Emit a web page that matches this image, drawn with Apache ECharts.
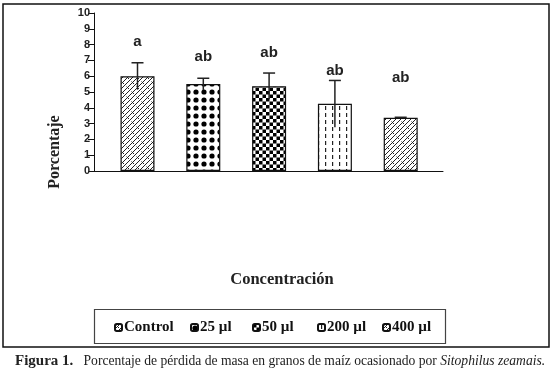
<!DOCTYPE html>
<html>
<head>
<meta charset="utf-8">
<script src="https://cdn.jsdelivr.net/npm/echarts@6/dist/echarts.min.js"></script>
<style>
  html, body { margin: 0; padding: 0; background: #fff; }
  #chart { width: 554px; height: 374px; }
</style>
</head>
<body>
<div id="chart"></div>
<script>
// datos
const categories = ['Control', '25 µl', '50 µl', '200 µl', '400 µl']
const meanValues = [6.0, 5.5, 5.37, 4.25, 3.37]
const errValues = [0.85, 0.37, 0.83, 1.48, 0.03]
const letters = ['a', 'ab', 'ab', 'ab', 'ab']
const letterLevels = [8.2, 7.23, 7.47, 6.33, 5.89]
const yTicks = [0, 1, 2, 3, 4, 5, 6, 7, 8, 9, 10]

// posicion horizontal de cada entrada de la leyenda (px)
const legendLefts = [114, 190, 252, 317, 382]

// patrones de relleno
function makeTile(w, h, draw) {
  const c = document.createElement('canvas')
  c.width = w
  c.height = h
  const ctx = c.getContext('2d')
  ctx.fillStyle = '#fff'
  ctx.fillRect(0, 0, w, h)
  draw(ctx)
  return { image: c, repeat: 'repeat' }
}

function brick() {
  return makeTile(10, 10, ctx => {
    ctx.strokeStyle = '#222'
    ctx.lineWidth = 1
    ctx.beginPath()
    // diagonales "/"
    ctx.moveTo(-1, 11); ctx.lineTo(11, -1)
    ctx.moveTo(-6, 11); ctx.lineTo(6, -1)
    ctx.moveTo(4, 11); ctx.lineTo(16, -1)
    // uniones cortas "\"
    ctx.moveTo(1.5, 1.5); ctx.lineTo(4, 4)
    ctx.moveTo(6.5, 6.5); ctx.lineTo(9, 9)
    ctx.stroke()
  })
}

const patterns = [
  brick(),
  makeTile(8, 8, ctx => {
    ctx.fillStyle = '#000'
    ctx.beginPath()
    ctx.arc(4, 4, 2.6, 0, Math.PI * 2)
    ctx.fill()
  }),
  makeTile(7, 7, ctx => {
    ctx.fillStyle = '#000'
    ctx.fillRect(0, 0, 3.5, 3.5)
    ctx.fillRect(3.5, 3.5, 3.5, 3.5)
  }),
  makeTile(7, 7, ctx => {
    ctx.fillStyle = '#222'
    ctx.fillRect(3, 1, 1.2, 4)
  }),
  brick()
]

const chart = echarts.init(document.getElementById('chart'))

const barSeries = categories.map((name, i) => ({
  name: name,
  type: 'bar',
  stack: 'all',
  xAxisIndex: 1,
  yAxisIndex: 1,
  barWidth: 34,
  itemStyle: {
    color: patterns[i],
    borderColor: '#111',
    borderWidth: 1.2
  },
  data: meanValues.map((v, j) => (j === i ? v : '-')),
  z: 2
}))

// una leyenda por entrada para respetar el espaciado del original
const legends = categories.map((name, i) => ({
  data: [name],
  left: legendLefts[i],
  top: 320,
  padding: 0,
  itemWidth: 7,
  itemHeight: 7,
  selectedMode: false,
  textStyle: {
    fontFamily: 'Liberation Serif, Times New Roman, serif',
    fontWeight: 'bold',
    fontSize: 15,
    color: '#111',
    padding: [0, 0, 0, -3]
  }
}))

chart.setOption({
  animation: false,
  backgroundColor: '#fff',
  grid: [
    { left: 94, right: 111, top: 13, bottom: 203 },
    { left: 104.6, right: 120.4, top: 13, bottom: 203 }
  ],
  xAxis: [
    {
      type: 'category',
      gridIndex: 0,
      data: [''],
      axisLine: { lineStyle: { color: '#111', width: 1 } },
      axisTick: { show: false },
      axisLabel: { show: false }
    },
    {
      type: 'category',
      gridIndex: 1,
      data: categories,
      axisLine: { show: false },
      axisTick: { show: false },
      axisLabel: { show: false }
    }
  ],
  yAxis: [
    {
      type: 'value',
      gridIndex: 0,
      min: yTicks[0],
      max: yTicks[yTicks.length - 1],
      interval: 1,
      splitLine: { show: false },
      axisLine: { show: true, lineStyle: { color: '#111', width: 1 } },
      axisTick: { show: true, length: 6, lineStyle: { color: '#111' } },
      axisLabel: {
        margin: 4,
        color: '#222',
        fontFamily: 'Liberation Sans, Arial, sans-serif',
        fontWeight: 'bold',
        fontSize: 11
      }
    },
    {
      type: 'value',
      gridIndex: 1,
      min: yTicks[0],
      max: yTicks[yTicks.length - 1],
      show: false
    }
  ],
  legend: legends,
  graphic: [
    {
      type: 'rect',
      shape: { x: 3, y: 4, width: 546, height: 343 },
      style: { fill: 'none', stroke: '#111', lineWidth: 1.5 },
      silent: true
    },
    {
      type: 'rect',
      shape: { x: 94.5, y: 309.5, width: 351, height: 34 },
      style: { fill: 'none', stroke: '#444', lineWidth: 1.2 },
      silent: true
    },
    {
      type: 'text',
      x: 55,
      y: 152,
      rotation: Math.PI / 2,
      style: {
        text: 'Porcentaje',
        fill: '#222',
        font: 'bold 16px "Liberation Serif", serif',
        align: 'center',
        verticalAlign: 'middle'
      }
    },
    {
      type: 'text',
      x: 282,
      y: 280,
      style: {
        text: 'Concentración',
        fill: '#222',
        font: 'bold 16.5px "Liberation Serif", serif',
        align: 'center',
        verticalAlign: 'middle'
      }
    },
    {
      type: 'text',
      x: 15,
      y: 361,
      style: {
        text: '{b|Figura 1.}   Porcentaje de pérdida de masa en granos de maíz ocasionado por {i|Sitophilus zeamais.}',
        fill: '#222',
        font: '13.6px "Liberation Serif", serif',
        verticalAlign: 'middle',
        rich: {
          b: { fontWeight: 'bold', fontSize: 15, fontFamily: 'Liberation Serif', fill: '#222' },
          i: { fontStyle: 'italic', fontSize: 13.6, fontFamily: 'Liberation Serif', fill: '#222' }
        }
      }
    }
  ],
  series: barSeries.concat([
    {
      type: 'custom',
      name: 'error',
      xAxisIndex: 1,
      yAxisIndex: 1,
      z: 5,
      data: meanValues.map((v, i) => [i, v - errValues[i], v + errValues[i]]),
      renderItem(params, api) {
        const x = api.coord([api.value(0), 0])[0]
        const lo = api.coord([api.value(0), api.value(1)])[1]
        const hi = api.coord([api.value(0), api.value(2)])[1]
        const cap = 6
        return {
          type: 'group',
          children: [
            { type: 'line', shape: { x1: x, y1: lo, x2: x, y2: hi }, style: { stroke: '#222', lineWidth: 1.5 } },
            { type: 'line', shape: { x1: x - cap, y1: hi, x2: x + cap, y2: hi }, style: { stroke: '#222', lineWidth: 1.5 } }
          ]
        }
      }
    },
    {
      type: 'custom',
      name: 'letras',
      xAxisIndex: 1,
      yAxisIndex: 1,
      z: 6,
      data: letterLevels.map((v, i) => [i, v]),
      renderItem(params, api) {
        const p = api.coord([api.value(0), api.value(1)])
        return {
          type: 'text',
          x: p[0],
          y: p[1],
          style: {
            text: letters[params.dataIndex],
            fill: '#222',
            font: 'bold 15px "Liberation Sans", Arial, sans-serif',
            align: 'center',
            verticalAlign: 'middle'
          }
        }
      }
    }
  ])
})
</script>
</body>
</html>
